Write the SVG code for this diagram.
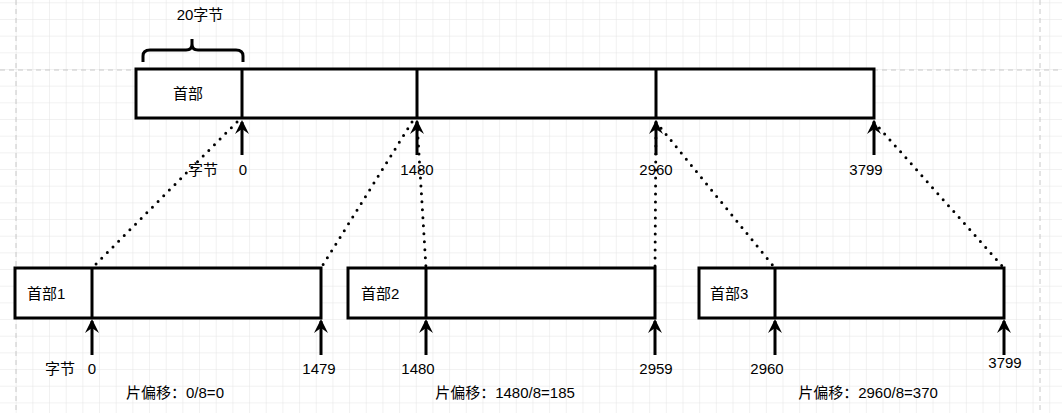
<svg xmlns="http://www.w3.org/2000/svg" width="1062" height="413" viewBox="0 0 1062 413">
<defs>
<pattern id="g" width="16.67" height="16.67" patternUnits="userSpaceOnUse" x="0" y="3.3"><path d="M16.67 0V16.67M0 16.67H16.67" fill="none" stroke="#e4e4e4" stroke-width="1"/></pattern>
<marker id="ar" viewBox="0 0 10 10" refX="5" refY="1" markerWidth="10" markerHeight="10" markerUnits="userSpaceOnUse" orient="auto"/>
</defs>
<style>
.b{fill:#fff;stroke:#000;stroke-width:3}
.l{stroke:#000;stroke-width:3;fill:none}
.d{stroke:#000;stroke-width:3;stroke-dasharray:0 8;stroke-linecap:round;fill:none}
.t{font-family:"Liberation Sans","Noto Sans CJK SC",sans-serif;font-size:15px;fill:#000}
.m{text-anchor:middle}
</style>
<rect width="1062" height="413" fill="#fff"/>
<rect width="1062" height="413" fill="url(#g)"/>
<g stroke="#c8c8c8" stroke-dasharray="5 4"><path d="M16 0V413M1040 0V413M0 70H1062"/></g>
<g id="connectors">
<path class="d" d="M237 122L92 268M412 122L321 268M417 122L426 268M656 122L655 268M656 122L775 268M874 122L1004 268"/>
<g id="arrows" class="l">
<path d="M242 155V122M417 155V122M656 155V122M874 155V122M92 355V321M321 355V321M426 355V321M655 355V321M775 355V321M1004 355V321"/>
</g>
<g fill="#000"><path d="M242 120l-7 14l7-5l7 5zM417 120l-7 14l7-5l7 5zM656 120l-7 14l7-5l7 5zM874 120l-7 14l7-5l7 5zM92 319l-7 14l7-5l7 5zM321 319l-7 14l7-5l7 5zM426 319l-7 14l7-5l7 5zM655 319l-7 14l7-5l7 5zM775 319l-7 14l7-5l7 5zM1004 319l-7 14l7-5l7 5z"/></g>
</g>
<g id="top">
<rect class="b" x="136" y="69" width="738" height="49"/>
<path class="l" d="M242 69V118M417 69V118M656 69V118"/>
<text class="t m" x="188" y="99">首部</text>
</g>
<g id="brace">
<path class="l" stroke-width="2" d="M143 62V56Q143 50 150 50H186Q192 50 192 44V39M192 44Q192 50 198 50H236Q243 50 243 56V62"/>
<text class="t m" x="200" y="20">20字节</text>
</g>
<g id="frag1"><rect class="b" x="15" y="268" width="306" height="50"/><path class="l" d="M92 268V318"/><text class="t" x="27" y="299">首部1</text></g>
<g id="frag2"><rect class="b" x="348" y="268" width="307" height="50"/><path class="l" d="M426 268V318"/><text class="t" x="361" y="299">首部2</text></g>
<g id="frag3"><rect class="b" x="699" y="268" width="305" height="50"/><path class="l" d="M775 268V318"/><text class="t" x="710" y="299">首部3</text></g>
<g id="labels" class="t">
<text x="188" y="175">字节</text><text class="m" x="243" y="175">0</text>
<text class="m" x="417" y="175">1480</text><text class="m" x="656" y="175">2960</text><text class="m" x="866" y="175">3799</text>
<text x="45" y="374">字节</text><text class="m" x="92" y="374">0</text>
<text class="m" x="319" y="374">1479</text><text class="m" x="418" y="374">1480</text><text class="m" x="656" y="374">2959</text><text class="m" x="767" y="374">2960</text><text class="m" x="1005" y="368">3799</text>
<text class="m" x="175" y="398">片偏移：0/8=0</text><text class="m" x="505" y="398">片偏移：1480/8=185</text><text class="m" x="868" y="398">片偏移：2960/8=370</text>
</g>
</svg>
